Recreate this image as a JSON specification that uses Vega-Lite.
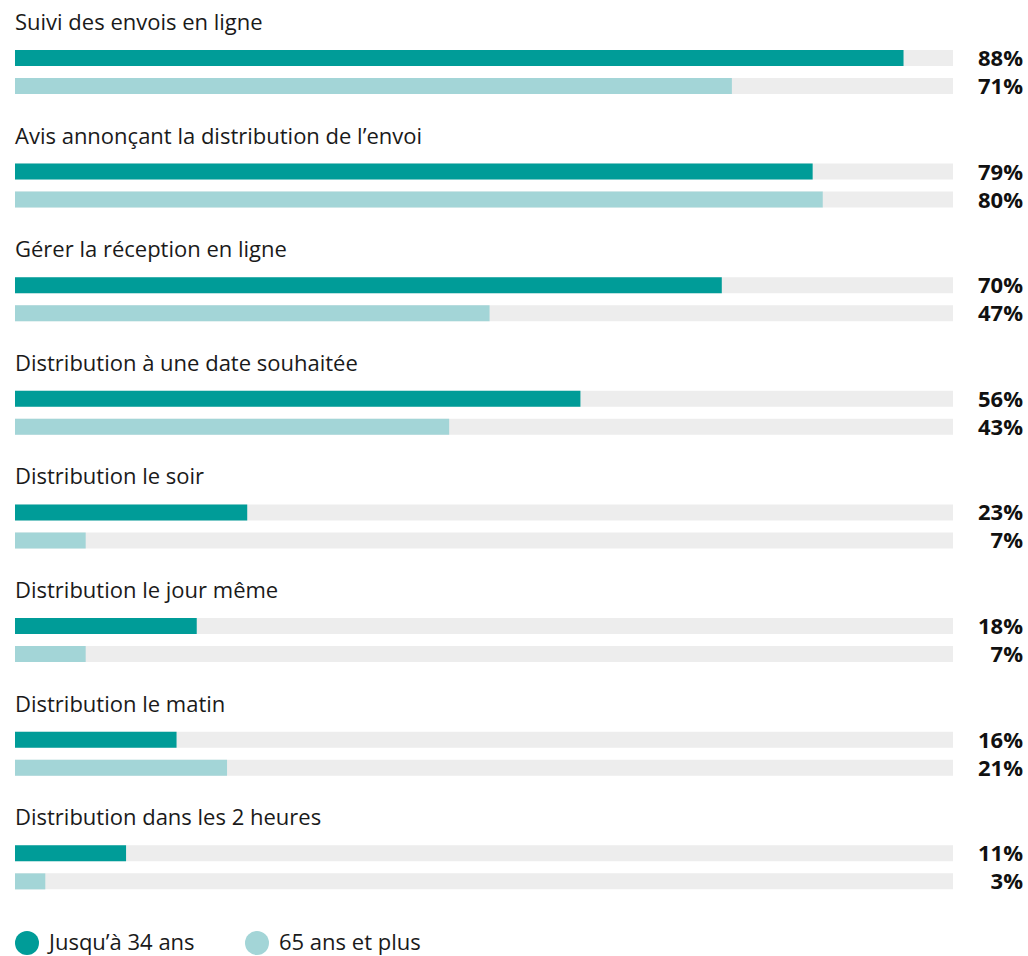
{
  "$schema": "https://vega.github.io/schema/vega-lite/v6.json",
  "width": 938,
  "height": 909,
  "autosize": {"type": "none"},
  "padding": {"left": 15, "top": 0, "right": 75, "bottom": 47},
  "background": "white",
  "config": {"view": {"stroke": null}, "font": "Open Sans"},
  "data": {"values": [
    {"category": "Suivi des envois en ligne", "group": "Jusqu’à 34 ans", "value": 88},
    {"category": "Suivi des envois en ligne", "group": "65 ans et plus", "value": 71},
    {"category": "Avis annonçant la distribution de l’envoi", "group": "Jusqu’à 34 ans", "value": 79},
    {"category": "Avis annonçant la distribution de l’envoi", "group": "65 ans et plus", "value": 80},
    {"category": "Gérer la réception en ligne", "group": "Jusqu’à 34 ans", "value": 70},
    {"category": "Gérer la réception en ligne", "group": "65 ans et plus", "value": 47},
    {"category": "Distribution à une date souhaitée", "group": "Jusqu’à 34 ans", "value": 56},
    {"category": "Distribution à une date souhaitée", "group": "65 ans et plus", "value": 43},
    {"category": "Distribution le soir", "group": "Jusqu’à 34 ans", "value": 23},
    {"category": "Distribution le soir", "group": "65 ans et plus", "value": 7},
    {"category": "Distribution le jour même", "group": "Jusqu’à 34 ans", "value": 18},
    {"category": "Distribution le jour même", "group": "65 ans et plus", "value": 7},
    {"category": "Distribution le matin", "group": "Jusqu’à 34 ans", "value": 16},
    {"category": "Distribution le matin", "group": "65 ans et plus", "value": 21},
    {"category": "Distribution dans les 2 heures", "group": "Jusqu’à 34 ans", "value": 11},
    {"category": "Distribution dans les 2 heures", "group": "65 ans et plus", "value": 3}
  ]},
  "encoding": {
    "y": {"field": "category", "type": "nominal", "sort": null, "axis": null,
          "scale": {"paddingInner": 0, "paddingOuter": 0}},
    "yOffset": {"field": "group", "type": "nominal",
                "scale": {"domain": ["_spacer", "Jusqu’à 34 ans", "65 ans et plus"], "paddingInner": 0.4286, "paddingOuter": 0.7433, "align": 0.5285}}
  },
  "layer": [
    {
      "mark": {"type": "bar", "color": "#ededed", "cornerRadius": 0},
      "encoding": {
        "x": {"datum": 92.9, "type": "quantitative", "scale": {"domain": [0, 92.9], "nice": false, "zero": true}, "axis": null}
      }
    },
    {
      "mark": {"type": "bar"},
      "encoding": {
        "x": {"field": "value", "type": "quantitative", "axis": null},
        "color": {"field": "group", "type": "nominal",
                  "scale": {"domain": ["Jusqu’à 34 ans", "65 ans et plus"], "range": ["#009c98", "#a3d5d7"]},
                  "legend": {"title": null, "orient": "none", "legendX": 0, "legendY": 931, "direction": "horizontal",
                             "symbolType": "circle", "symbolSize": 576, "symbolStrokeWidth": 0, "symbolOpacity": 1,
                             "labelFontSize": 22, "labelFont": "Open Sans", "labelColor": "#1a1a1a",
                             "labelOffset": 10, "columnPadding": 50, "labelLimit": 400}}
      }
    },
    {
      "transform": [{"calculate": "datum.value + '%'", "as": "label"}],
      "mark": {"type": "text", "align": "right", "baseline": "alphabetic", "fontSize": 22, "fontWeight": "bold", "color": "#111111", "dx": 70, "dy": 8},
      "encoding": {
        "x": {"value": {"expr": "width"}},
        "text": {"field": "label", "type": "nominal"}
      }
    },
    {
      "transform": [{"filter": "datum.group === 'Jusqu’à 34 ans'"}],
      "mark": {"type": "text", "align": "left", "baseline": "alphabetic", "fontSize": 22, "color": "#1a1a1a", "dy": -28},
      "encoding": {
        "x": {"value": 0},
        "text": {"field": "category"}
      }
    }
  ]
}
